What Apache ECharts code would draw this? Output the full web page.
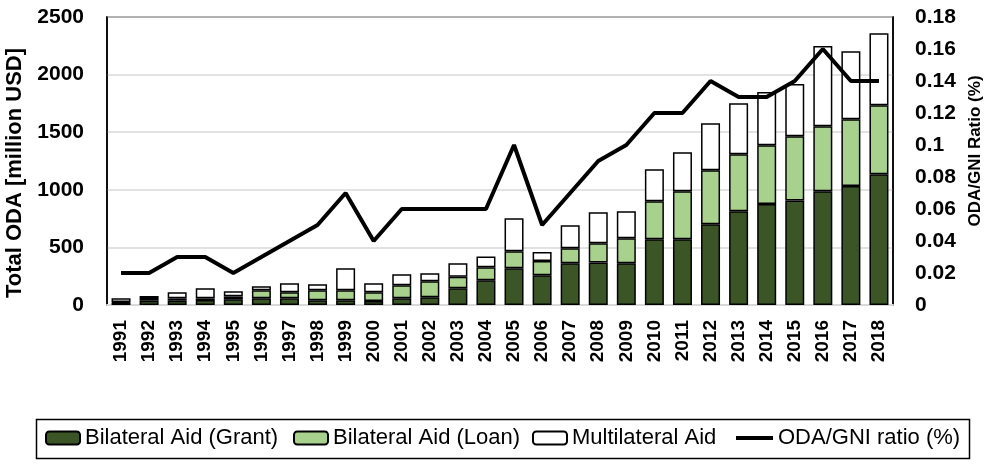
<!DOCTYPE html>
<html>
<head>
<meta charset="utf-8">
<script src="https://cdn.jsdelivr.net/npm/echarts@6/dist/echarts.min.js"></script>
<style>html,body{margin:0;padding:0;background:#fff}#c{width:995px;height:464px}</style>
</head>
<body>
<div id="c"></div>
<script>
const years = ['1991','1992','1993','1994','1995','1996','1997','1998','1999','2000','2001','2002','2003','2004','2005','2006','2007','2008','2009','2010','2011','2012','2013','2014','2015','2016','2017','2018'];
const grant = [20,37,37,43,49,58,58,41,41,35,58,67,145,214,318,258,362,370,362,570,570,700,813,877,908,987,1033,1134];
const loan = [5,15,21,15,26,69,52,86,86,75,113,139,101,113,148,124,130,165,217,330,417,469,495,509,556,564,579,599];
const multilateral = [33,26,52,87,44,35,78,53,191,78,95,69,116,95,286,78,200,270,234,278,338,408,443,463,454,697,590,625];
const ratio = [0.02,0.02,0.03,0.03,0.02,0.03,0.04,0.05,0.07,0.04,0.06,0.06,0.06,0.06,0.10,0.05,0.07,0.09,0.10,0.12,0.12,0.14,0.13,0.13,0.14,0.16,0.14,0.14];
const leftTicks = {min:0, max:2500, interval:500};
const rightTicks = {min:0, max:0.18, interval:0.02};

const FONT = "'Liberation Sans', Arial, sans-serif";
const chart = echarts.init(document.getElementById('c'), null, {renderer:'canvas'});
const legendText = {fontFamily:FONT, fontSize:22, color:'#000'};
function leg(name, left, extra){
  return Object.assign({data:[name], left:left, top:427, itemWidth:34, itemHeight:13, itemGap:0, padding:0,
          textStyle:legendText, selectedMode:false}, extra || {});
}
chart.setOption({
  animation:false,
  backgroundColor:'#fff',
  textStyle:{fontFamily:FONT},
  grid:{left:107, right:102, top:17, bottom:159, outerBoundsMode:'none', containLabel:false,
        show:true, borderColor:'#000', borderWidth:1.5, backgroundColor:'transparent'},
  legend:[
    leg('Bilateral Aid (Grant)', 45),
    leg('Bilateral Aid (Loan)', 293),
    leg('Multilateral Aid', 532),
    leg('ODA/GNI ratio (%)', 736, {icon:'rect', itemWidth:37, itemHeight:4,
        itemStyle:{color:'#000', borderWidth:0}, lineStyle:{width:0}})
  ],
  graphic:[{type:'rect', left:34, top:417, shape:{width:933, height:39}, style:{fill:'none', stroke:'#000', lineWidth:1.5}, silent:true}],
  xAxis:{type:'category', data:years, axisTick:{show:false},
    axisLine:{lineStyle:{color:'#d9d9d9', width:2}},
    axisLabel:{rotate:90, interval:0, margin:15, fontFamily:FONT, fontSize:19, fontWeight:'bold', color:'#000'}},
  yAxis:[
    {type:'value', min:leftTicks.min, max:leftTicks.max, interval:leftTicks.interval,
     name:'Total ODA [million USD]', nameLocation:'middle', nameGap:77, nameRotate:90,
     nameTextStyle:{fontFamily:FONT, fontSize:22, fontWeight:'bold', color:'#000', padding:[0,24,0,0]},
     axisLine:{show:true, lineStyle:{color:'#000', width:1.5}}, axisTick:{show:false},
     axisLabel:{margin:23, fontFamily:FONT, fontSize:21, fontWeight:'bold', color:'#000',
       formatter:v=>String(v)},
     splitLine:{show:true, lineStyle:{color:'#d9d9d9', width:1.5}}},
    {type:'value', min:rightTicks.min, max:rightTicks.max, interval:rightTicks.interval, position:'right',
     name:'ODA/GNI Ratio (%)', nameLocation:'middle', nameGap:74, nameRotate:90,
     nameTextStyle:{fontFamily:FONT, fontSize:17, fontWeight:'bold', color:'#000', padding:[0,0,0,20]},
     axisLine:{show:true, lineStyle:{color:'#000', width:1.5}}, axisTick:{show:false},
     axisLabel:{margin:22, fontFamily:FONT, fontSize:21, fontWeight:'bold', color:'#000',
       formatter:v=>String(+v.toFixed(2))},
     splitLine:{show:false}}
  ],
  series:[
    {name:'Bilateral Aid (Grant)', type:'bar', stack:'oda', data:grant, barWidth:19,
     itemStyle:{color:'#3b5526', borderColor:'#000', borderWidth:1.5}},
    {name:'Bilateral Aid (Loan)', type:'bar', stack:'oda', data:loan, barWidth:19,
     itemStyle:{color:'#a9d18e', borderColor:'#000', borderWidth:1.5}},
    {name:'Multilateral Aid', type:'bar', stack:'oda', data:multilateral, barWidth:19,
     itemStyle:{color:'#ffffff', borderColor:'#000', borderWidth:1.5}},
    {name:'ODA/GNI ratio (%)', type:'line', yAxisIndex:1, data:ratio, symbol:'none', z:5,
     lineStyle:{color:'#000', width:4}, itemStyle:{color:'#000'}}
  ]
});
</script>
</body>
</html>
